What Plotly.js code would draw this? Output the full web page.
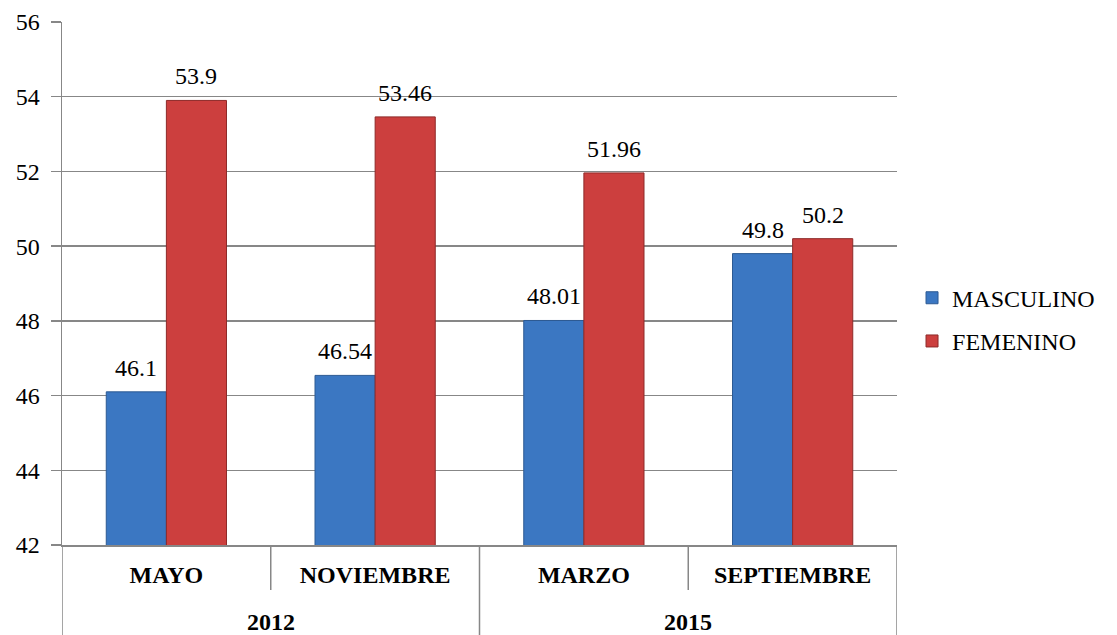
<!DOCTYPE html>
<html>
<head>
<meta charset="utf-8">
<script src="https://cdn.plot.ly/plotly-3.0.1.min.js"></script>
<style>html,body{margin:0;padding:0;background:#fff;}#chart{width:1117px;height:635px;}</style>
</head>
<body>
<div id="chart"></div>
<script>
var months = ["MAYO", "NOVIEMBRE", "MARZO", "SEPTIEMBRE"];
var years = ["2012", "2015"];
var yearSpans = [[0, 1], [2, 3]];
var masculino = [46.1, 46.54, 48.01, 49.8];
var femenino = [53.9, 53.46, 51.96, 50.2];
var mascLabels = ["46.1", "46.54", "48.01", "49.8"];
var femLabels = ["53.9", "53.46", "51.96", "50.2"];

var FONT = "Liberation Serif";
var GRID = "#878787";
var bargap = 0.424;
var off = (1 - bargap) / 4;

var traces = [
  {type: "bar", name: "MASCULINO", x: months, y: masculino, legendgroup: "m",
   marker: {color: "#3b77c2", line: {color: "#2c5a93", width: 1}}, hoverinfo: "y"},
  {type: "bar", name: "FEMENINO", x: months, y: femenino, legendgroup: "f",
   marker: {color: "#cc3f3e", line: {color: "#8e2a29", width: 1}}, hoverinfo: "y"}
];

var annotations = [];
months.forEach(function (m, i) {
  annotations.push({x: i - off, y: masculino[i], xref: "x", yref: "y", text: mascLabels[i],
    showarrow: false, yanchor: "bottom", yshift: 9, font: {family: FONT, size: 24, color: "#000"}});
  annotations.push({x: i + off, y: femenino[i], xref: "x", yref: "y", text: femLabels[i],
    showarrow: false, yanchor: "bottom", yshift: 9, font: {family: FONT, size: 24, color: "#000"}});
});
years.forEach(function (yr, k) {
  annotations.push({x: (yearSpans[k][0] + yearSpans[k][1]) / 2, y: -0.147, xref: "x", yref: "paper",
    text: "<b>" + yr + "</b>", showarrow: false, yanchor: "middle",
    font: {family: FONT, size: 24, color: "#000"}});
});

var shapes = [];
yearSpans.forEach(function (s) {
  for (var j = s[0]; j < s[1]; j++) {
    shapes.push({type: "line", xref: "x", yref: "paper", x0: j + 0.5, x1: j + 0.5, y0: 0, y1: -0.086,
      line: {color: GRID, width: 1.5}});
  }
});
var longPos = [-0.5];
yearSpans.forEach(function (s) { longPos.push(s[1] + 0.5); });
longPos.forEach(function (p) {
  shapes.push({type: "line", xref: "x", yref: "paper", x0: p, x1: p, y0: 0, y1: -0.175,
    line: {color: GRID, width: 1.5}});
});

var layout = {
  width: 1117, height: 635,
  margin: {l: 62, r: 220, t: 22, b: 90},
  paper_bgcolor: "#fff", plot_bgcolor: "#fff",
  barmode: "group", bargap: bargap, bargroupgap: 0,
  font: {family: FONT, size: 24, color: "#000"},
  showlegend: true,
  legend: {x: 1.018, xanchor: "left", y: 0.515, yanchor: "top", traceorder: "grouped",
    tracegroupgap: 9, font: {family: FONT, size: 24, color: "#000"}, bgcolor: "rgba(0,0,0,0)"},
  xaxis: {type: "category", categoryorder: "array", categoryarray: months,
    showgrid: false, showline: true, linecolor: GRID, linewidth: 1.5, ticks: "",
    tickvals: months, ticktext: months.map(function (m) { return "<b>" + m + "</b>"; }),
    ticklabelstandoff: 8, tickfont: {family: FONT, size: 24, color: "#000"},
    range: [-0.5, 3.5], fixedrange: true},
  yaxis: {range: [42, 56], dtick: 2, tick0: 42, showgrid: true, gridcolor: GRID, gridwidth: 1.5,
    showline: true, linecolor: GRID, linewidth: 1.5, ticks: "outside", ticklen: 10, tickcolor: GRID,
    tickwidth: 1.5, zeroline: false, ticklabelstandoff: 6,
    tickfont: {family: FONT, size: 24, color: "#000"}, fixedrange: true},
  annotations: annotations,
  shapes: shapes
};

Plotly.newPlot("chart", traces, layout, {displayModeBar: false, staticPlot: true});
</script>
</body>
</html>
